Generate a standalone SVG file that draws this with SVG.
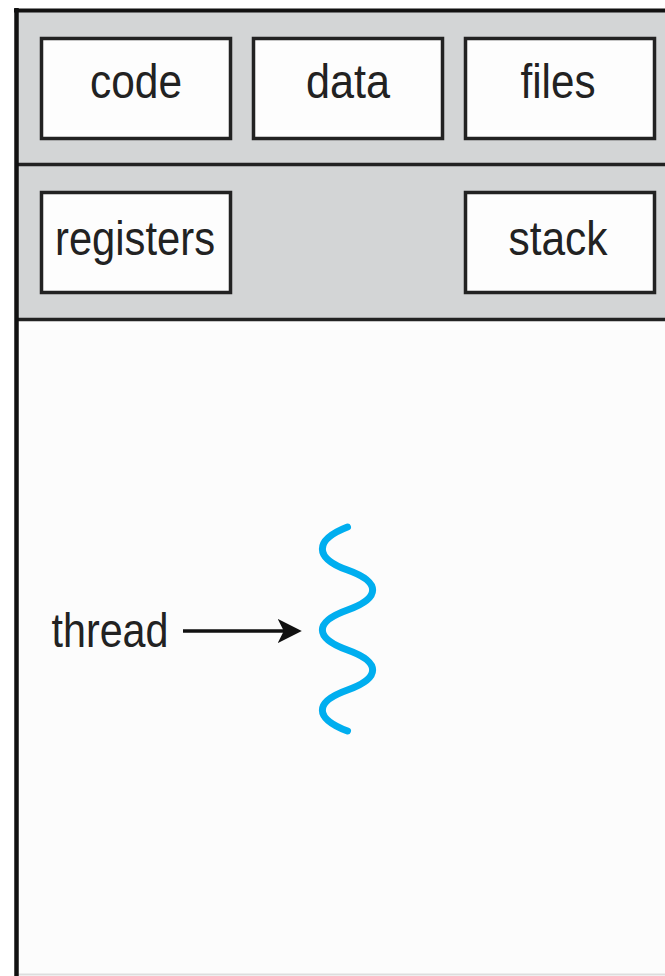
<svg xmlns="http://www.w3.org/2000/svg" width="665" height="976" viewBox="0 0 665 976">
<style>
.band{fill:#d3d5d6;}
.box{fill:#fdfdfd;stroke:#222;stroke-width:3.5;}
.lbl{font-family:"Liberation Sans",Arial,sans-serif;font-size:48px;fill:#222;text-anchor:middle;}
.div{stroke:#222;stroke-width:3.5;}
</style>
<defs>
<marker id="ah" viewBox="0 0 10 10" refX="3" refY="5" markerWidth="24" markerHeight="25" markerUnits="userSpaceOnUse" orient="auto">
<path d="M0,0 L10,5 L0,10 L2.5,5 Z" fill="#111"/>
</marker>
</defs>
<rect x="0" y="0" width="665" height="976" fill="#ffffff"/>
<rect x="16" y="10" width="660" height="964" fill="#fcfcfc"/>
<rect class="band" x="16" y="10" width="660" height="310"/>
<line x1="16" y1="974.5" x2="665" y2="974.5" stroke="#dddddd" stroke-width="2"/>
<line class="div" x1="16" y1="164.5" x2="665" y2="164.5"/>
<line class="div" x1="16" y1="319.5" x2="665" y2="319.5"/>
<line x1="14" y1="10.5" x2="665" y2="10.5" stroke="#111" stroke-width="4"/>
<line x1="16.5" y1="8" x2="16.5" y2="976" stroke="#111" stroke-width="4.5"/>
<g id="code"><rect class="box" x="41.5" y="38.5" width="189" height="100"/><text class="lbl" x="136" y="98" textLength="92" lengthAdjust="spacingAndGlyphs">code</text></g>
<g id="data"><rect class="box" x="253.5" y="38.5" width="189" height="100"/><text class="lbl" x="348" y="98" textLength="84" lengthAdjust="spacingAndGlyphs">data</text></g>
<g id="files"><rect class="box" x="465.5" y="38.5" width="189" height="100"/><text class="lbl" x="558" y="98" textLength="75" lengthAdjust="spacingAndGlyphs">files</text></g>
<g id="registers"><rect class="box" x="41.5" y="192.5" width="189" height="100"/><text class="lbl" x="135" y="255" textLength="160" lengthAdjust="spacingAndGlyphs">registers</text></g>
<g id="stack"><rect class="box" x="465.5" y="192.5" width="189" height="100"/><text class="lbl" x="558" y="255" textLength="99" lengthAdjust="spacingAndGlyphs">stack</text></g>
<g id="thread-label"><text class="lbl" x="110" y="647" textLength="117" lengthAdjust="spacingAndGlyphs">thread</text></g>
<g id="thread"><path d="M347.5,527 C314,540 314,558 347.5,570 C381,582 381,598 347.5,610 C314,622 314,638 347.5,650 C381,662 381,678 347.5,690 C314,702 314,718 347.5,731" fill="none" stroke="#00aeef" stroke-width="7" stroke-linecap="round"/></g>
<g id="connectors"><line x1="183" y1="631" x2="285" y2="631" stroke="#111" stroke-width="3.5" marker-end="url(#ah)"/></g>
</svg>
